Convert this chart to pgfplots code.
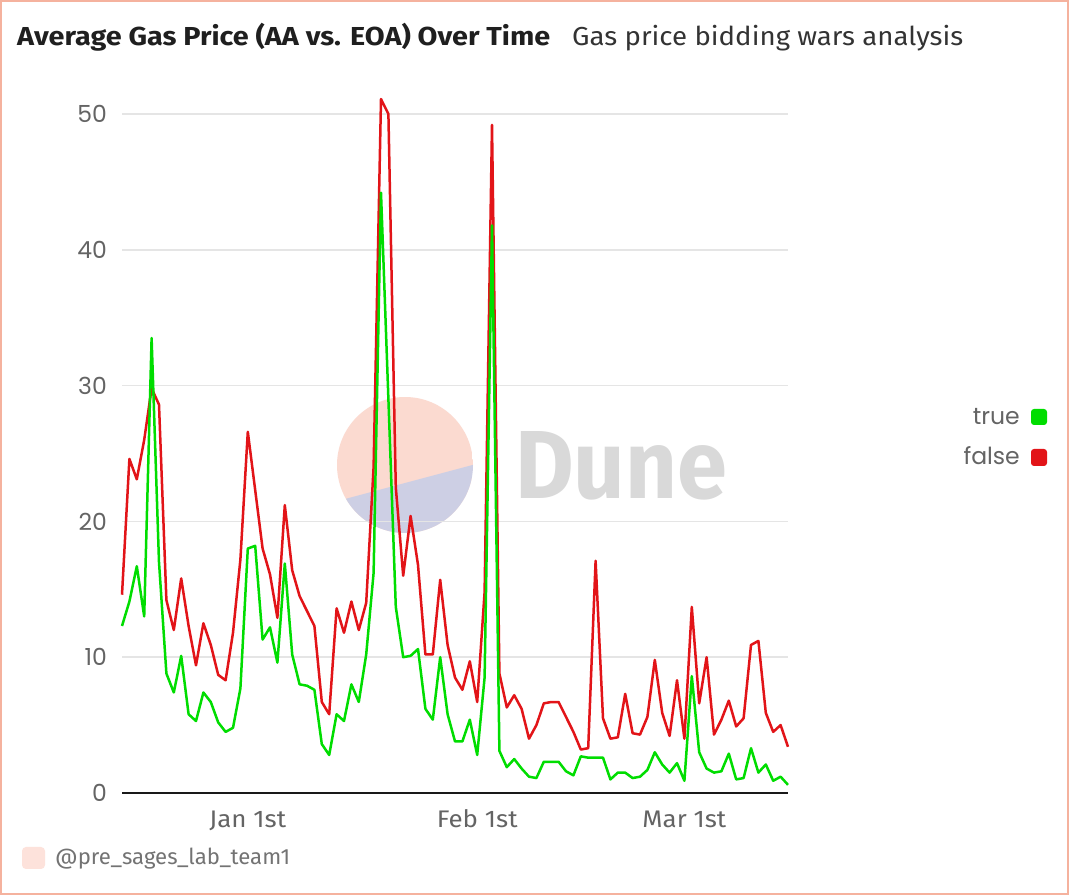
\documentclass[border=0pt]{standalone}
\usepackage{fontspec}
\setmainfont{Fira Sans}
\newfontfamily\popfont{Poppins}
\usepackage{graphicx}
\usepackage{pgfplots}
\usepackage{pgfplotstable}
\pgfplotsset{compat=1.18}
\definecolor{myg}{RGB}{0,221,0}
\definecolor{myr}{RGB}{226,20,24}
\definecolor{bord}{RGB}{245,178,158}
\definecolor{gridc}{RGB}{229,229,229}
\definecolor{tickc}{RGB}{100,100,100}
\definecolor{wmpink}{RGB}{251,218,208}
\definecolor{wmblue}{RGB}{205,207,228}
\definecolor{dunegray}{RGB}{217,217,217}
\definecolor{tagpink}{RGB}{253,226,219}

\pgfplotstableread{
i green red
0 12.3 14.6
1 14.1 24.6
2 16.7 23.1
3 13.0 26.0
4 33.5 29.8
5 17.0 28.6
6 8.8 14.2
7 7.4 12.0
8 10.1 15.8
9 5.8 12.3
10 5.3 9.4
11 7.4 12.5
12 6.7 10.9
13 5.2 8.7
14 4.5 8.3
15 4.8 11.8
16 7.7 17.2
17 18.0 26.6
18 18.2 22.3
19 11.3 18.0
20 12.2 16.1
21 9.6 12.9
22 16.9 21.2
23 10.2 16.4
24 8.0 14.5
25 7.9 13.4
26 7.6 12.3
27 3.6 6.7
28 2.8 5.8
29 5.8 13.6
30 5.3 11.8
31 8.0 14.1
32 6.7 12.0
33 10.2 14.0
34 16.2 24.0
35 44.2 51.1
36 29.0 50.0
37 13.7 22.5
38 10.0 16.0
39 10.1 20.4
40 10.6 16.8
41 6.2 10.2
42 5.4 10.2
43 10.0 15.7
44 5.8 10.9
45 3.8 8.5
46 3.8 7.6
47 5.4 9.7
48 2.8 6.7
49 8.5 14.8
50 41.8 49.2
51 3.1 8.8
52 1.9 6.3
53 2.5 7.2
54 1.8 6.2
55 1.2 4.0
56 1.1 5.0
57 2.3 6.6
58 2.3 6.7
59 2.3 6.7
60 1.6 5.6
61 1.3 4.5
62 2.7 3.2
63 2.6 3.3
64 2.6 17.1
65 2.6 5.5
66 1.0 4.0
67 1.5 4.1
68 1.5 7.3
69 1.1 4.4
70 1.2 4.3
71 1.7 5.6
72 3.0 9.8
73 2.1 5.9
74 1.5 4.2
75 2.2 8.3
76 0.9 4.0
77 8.6 13.7
78 3.0 6.6
79 1.8 10.0
80 1.5 4.3
81 1.6 5.4
82 2.9 6.8
83 1.0 4.9
84 1.1 5.5
85 3.3 10.9
86 1.5 11.2
87 2.1 5.9
88 0.9 4.5
89 1.2 5.0
90 0.6 3.4
}\gasdata

\begin{document}
\begin{tikzpicture}[x=1bp,y=1bp]
\useasboundingbox (0,0) rectangle (1069,895);
\fill[white] (0,0) rectangle (1069,895);
\draw[bord, line width=2bp] (1,1) rectangle (1068,894);
% title
\node[anchor=base west, inner sep=0pt, text=black!88] at (17,849)
  {\resizebox{533bp}{\height}{\fontsize{26bp}{30bp}\selectfont\bfseries Average Gas Price (AA vs. EOA) Over Time}};
\node[anchor=base west, inner sep=0pt, text=black!80] at (572,849)
  {\resizebox{391bp}{\height}{\fontsize{26bp}{30bp}\selectfont Gas price bidding wars analysis}};
% watermark
\begin{scope}
  \clip (405,430) circle (68);
  \fill[wmpink] (337,362) rectangle (473,498);
  \fill[wmblue] (330,392) -- (480,432) -- (480,350) -- (330,350) -- cycle;
\end{scope}
\node[anchor=south west, inner sep=0pt, text=dunegray] at (515,395)
  {\resizebox{212bp}{67bp}{\bfseries Dune}};
% tag
\fill[tagpink, rounded corners=4bp] (22,26) rectangle (45,48);
\node[anchor=base west, inner sep=0pt, text=black!55] at (55,30)
  {\resizebox{235bp}{\height}{\fontsize{22bp}{26bp}\selectfont @pre\_sages\_lab\_team1}};
% legend
\node[anchor=base east, inner sep=0pt, text=tickc] at (1020,470)
  {\popfont\fontsize{23.5bp}{26bp}\selectfont true};
\fill[myg, rounded corners=3bp] (1031,470) rectangle (1047,486);
\node[anchor=base east, inner sep=0pt, text=tickc] at (1020,430)
  {\popfont\fontsize{23.5bp}{26bp}\selectfont false};
\fill[myr, rounded corners=3bp] (1031,429) rectangle (1047,446);

\begin{axis}[
  at={(122bp,102bp)}, anchor=south west,
  scale only axis, width=666bp, height=706.16bp,
  xmin=0, xmax=90, ymin=0, ymax=52,
  axis line style={draw=none}, major tick length=0pt, tick style={draw=none},
  ytick={0,10,20,30,40,50},
  ymajorgrids, grid style={gridc, line width=1.5bp},
  xtick={17,48,76}, xticklabels={Jan 1st,Feb 1st,Mar 1st},
  /pgf/number format/assume math mode=true,
  xticklabel style={font=\fontsize{24bp}{28bp}\selectfont, text=tickc, anchor=base, inner sep=0pt, yshift=-35bp, xscale=1.08},
  yticklabel style={font=\popfont\fontsize{23.5bp}{26bp}\selectfont, text=tickc, anchor=east, inner sep=0pt, xshift=-15bp},
  clip=false,
]
\draw[black!90, line width=2.5bp] (axis cs:0,0) -- (axis cs:90,0);
\addplot[myr, line width=2.5bp, line join=round, mark=none] table[x=i, y=red] {\gasdata};
\addplot[myg, line width=2.5bp, line join=round, mark=none] table[x=i, y=green] {\gasdata};
\end{axis}
\end{tikzpicture}
\end{document}
